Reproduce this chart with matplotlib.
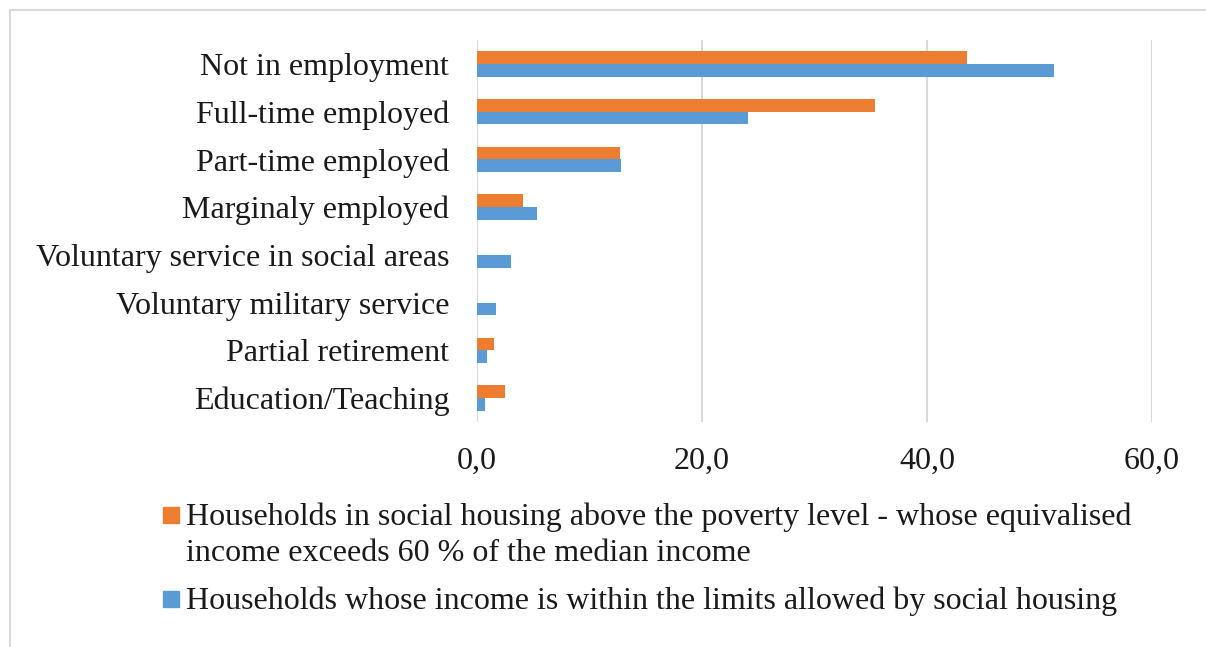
import numpy as np
import matplotlib.pyplot as plt
from matplotlib.patches import Rectangle
from matplotlib.lines import Line2D

categories = ["Not in employment", "Full-time employed", "Part-time employed",
              "Marginaly employed", "Voluntary service in social areas",
              "Voluntary military service", "Partial retirement",
              "Education/Teaching"]
above_poverty = [43.6, 35.4, 12.7, 4.1, 0.0, 0.0, 1.5, 2.5]
within_limits = [51.3, 24.1, 12.8, 5.3, 3.0, 1.7, 0.9, 0.7]
xticks = [0, 20, 40, 60]

label_above = ["Households in social housing above the poverty level - whose equivalised",
               "income exceeds 60 % of the median income"]
label_within = ["Households whose income is within the limits allowed by social housing"]

orange = "#ed7d31"
blue = "#5b9bd5"
text_col = "#1a1a1a"

plt.rcParams['font.family'] = ['Liberation Serif', 'DejaVu Serif']
plt.rcParams['font.size'] = 23

W, H = 1206, 647
fig = plt.figure(figsize=(W / 100, H / 100), dpi=100)
ax = fig.add_axes([0.3955, 0.3478, 0.5597, 0.5904])

y = np.arange(len(categories))
h = 0.265
ax.barh(y - h / 2, above_poverty, height=h, color=orange)
ax.barh(y + h / 2, within_limits, height=h, color=blue)

ax.set_ylim(len(categories) - 0.5, -0.5)
ax.set_xlim(0, 60)
ax.set_xticks(xticks)
ax.xaxis.set_major_formatter(plt.FuncFormatter(lambda v, p: ("%.1f" % v).replace(".", ",")))
ax.set_yticks(y)
ax.set_yticklabels(categories)
ax.tick_params(axis="x", length=0, pad=18, colors=text_col)
ax.tick_params(axis="y", length=0, pad=20, colors=text_col)
ax.grid(axis="x", color="#d9d9d9", lw=1.5)
ax.set_axisbelow(True)
for s in ax.spines.values():
    s.set_visible(False)

# legend below the axis, marker next to the first line of each entry
def fx(px):
    return px / W

def fy(px):
    return 1 - px / H

entries = [(orange, label_above, 507), (blue, label_within, 591)]
for col, lines, top in entries:
    fig.add_artist(Rectangle((fx(163), fy(top + 16)), fx(16), 16 / H,
                             transform=fig.transFigure, color=col))
    for i, line in enumerate(lines):
        fig.text(fx(186), fy(top + 18 + 36 * i), line, va="baseline",
                 ha="left", color=text_col)

# light frame edges (top and left) around the chart area
fig.add_artist(Line2D([fx(10), 1], [fy(10), fy(10)], transform=fig.transFigure,
                      color="#d9d9d9", lw=1.5))
fig.add_artist(Line2D([fx(10), fx(10)], [fy(10), 0], transform=fig.transFigure,
                      color="#d9d9d9", lw=1.5))

fig.savefig("out.png", dpi=100)
